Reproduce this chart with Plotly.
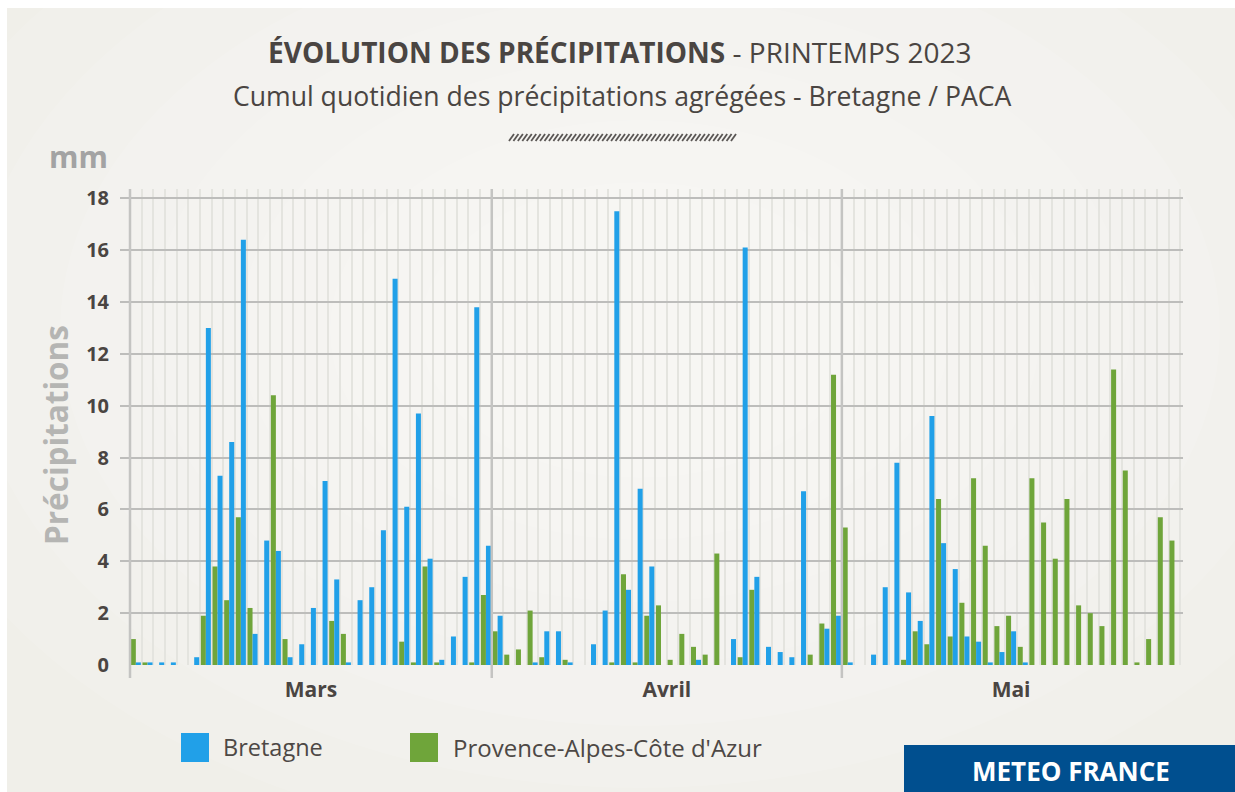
import plotly.graph_objects as go

# ---------------- data ----------------
month_labels = ["Mars", "Avril", "Mai"]
month_days = [31, 30, 29]          # days shown for each month
series_names = ["Bretagne", "Provence-Alpes-Côte d'Azur"]

bretagne = [
    0.1, 0.1, 0.1, 0.1, 0.0, 0.3, 13.0, 7.3, 8.6, 16.4, 1.2, 4.8, 4.4, 0.3, 0.8, 2.2,
    7.1, 3.3, 0.1, 2.5, 3.0, 5.2, 14.9, 6.1, 9.7, 4.1, 0.2, 1.1, 3.4, 13.8, 4.6,
    1.9, 0.0, 0.0, 0.1, 1.3, 1.3, 0.1, 0.0, 0.8, 2.1, 17.5, 2.9, 6.8, 3.8, 0.0,
    0.0, 0.0, 0.2, 0.0, 0.0, 1.0, 16.1, 3.4, 0.7, 0.5, 0.3, 6.7, 0.0, 1.4, 1.9,
    0.1, 0.0, 0.4, 3.0, 7.8, 2.8, 1.7, 9.6, 4.7, 3.7, 1.1, 0.9, 0.1, 0.5, 1.3,
    0.1, 0.0, 0.0, 0.0, 0.0, 0.0, 0.0, 0.0, 0.0, 0.0, 0.0, 0.0, 0.0, 0.0,
]
paca = [
    1.0, 0.1, 0.0, 0.0, 0.0, 0.0, 1.9, 3.8, 2.5, 5.7, 2.2, 0.0, 10.4, 1.0, 0.0, 0.0,
    0.0, 1.7, 1.2, 0.0, 0.0, 0.0, 0.0, 0.9, 0.1, 3.8, 0.1, 0.0, 0.0, 0.1, 2.7,
    1.3, 0.4, 0.6, 2.1, 0.3, 0.0, 0.2, 0.0, 0.0, 0.0, 0.1, 3.5, 0.1, 1.9, 2.3,
    0.2, 1.2, 0.7, 0.4, 4.3, 0.0, 0.3, 2.9, 0.0, 0.0, 0.0, 0.0, 0.4, 1.6, 11.2,
    5.3, 0.0, 0.0, 0.0, 0.0, 0.2, 1.3, 0.8, 6.4, 1.1, 2.4, 7.2, 4.6, 1.5, 1.9,
    0.7, 7.2, 5.5, 4.1, 6.4, 2.3, 2.0, 1.5, 11.4, 7.5, 0.1, 1.0, 5.7, 4.8,
]
y_ticks = [0, 2, 4, 6, 8, 10, 12, 14, 16, 18]

# ---------------- style ----------------
BLUE = "#21a0e8"
GREEN = "#6fa53a"
DARK = "#4a4542"
W, H = 1235, 792
# plot area in page pixels: x 120..1183, y 189..665
PL, PR, PT, PB = 120, 1183, 189, 665
ML, MR, MT, MB = PL, W - PR, PT, H - PB
PW, PH = PR - PL, PB - PT

def px(x):
    return (x - PL) / PW

def py(y):
    return (PB - y) / PH

n_days = sum(month_days)
xs = [i + 0.5 for i in range(n_days)]
bounds = [0]
for d in month_days:
    bounds.append(bounds[-1] + d)
month_centers = [(bounds[i] + bounds[i + 1]) / 2 for i in range(len(month_days))]

day_px = 11.67
x_lo = -10 / day_px
x_hi = x_lo + PW / day_px

fig = go.Figure()
fig.add_trace(go.Bar(x=xs, y=paca, name=series_names[1], marker=dict(color=GREEN, line=dict(width=0)),
                     showlegend=False))
fig.add_trace(go.Bar(x=xs, y=bretagne, name=series_names[0], marker=dict(color=BLUE, line=dict(width=0)),
                     showlegend=False))

shapes = []
# card
shapes.append(dict(type="rect", xref="paper", yref="paper", x0=px(7), x1=px(W + 10), y0=py(H + 10), y1=py(8),
                   fillcolor="#f0efe9", line=dict(width=0), layer="below"))
# soft radial light on the card
for k in range(7):
    rx = 760 - k * 90
    ry = 520 - k * 62
    cx, cy = 640, 330
    shapes.append(dict(type="circle", xref="paper", yref="paper", x0=px(cx - rx), x1=px(cx + rx),
                       y0=py(cy + ry), y1=py(cy - ry), fillcolor="rgba(255,255,255,0.11)",
                       line=dict(width=0), layer="below"))
# METEO FRANCE box
shapes.append(dict(type="rect", xref="paper", yref="paper", x0=px(904), x1=px(W + 10), y0=py(H + 10), y1=py(745),
                   fillcolor="#004f8f", line=dict(width=0), layer="above"))
# hatched ornament
n_hatch = 51
for i in range(n_hatch):
    x0 = 511 + i * (222 / (n_hatch - 1)) - 2
    shapes.append(dict(type="line", xref="paper", yref="paper", x0=px(x0), x1=px(x0 + 5),
                       y0=py(141), y1=py(134), line=dict(color="#5a5654", width=1.8)))
# month separators + left axis
for b in bounds[:-1]:
    shapes.append(dict(type="line", xref="x", yref="paper", x0=b, x1=b, y0=-13 / PH, y1=1,
                       line=dict(color="#c4c4c2", width=2.5), layer="above"))
# legend squares
shapes.append(dict(type="rect", xref="paper", yref="paper", x0=px(181), x1=px(209), y0=py(762), y1=py(733),
                   fillcolor=BLUE, line=dict(width=0)))
shapes.append(dict(type="rect", xref="paper", yref="paper", x0=px(410), x1=px(438), y0=py(762), y1=py(733),
                   fillcolor=GREEN, line=dict(width=0)))

annotations = [
    dict(text="<b>ÉVOLUTION DES PRÉCIPITATIONS</b> - PRINTEMPS 2023", x=px(620), y=py(52),
         xref="paper", yref="paper", showarrow=False, xanchor="center", yanchor="middle",
         font=dict(family="Open Sans", size=28, color=DARK)),
    dict(text="Cumul quotidien des précipitations agrégées - Bretagne / PACA", x=px(622), y=py(96),
         xref="paper", yref="paper", showarrow=False, xanchor="center", yanchor="middle",
         font=dict(family="Open Sans", size=26.6, color=DARK)),
    dict(text="mm", x=px(78), y=py(156), xref="paper", yref="paper", showarrow=False,
         xanchor="center", yanchor="middle", font=dict(family="Open Sans", size=30, color="#a3a3a3", weight="bold")),
    dict(text="Précipitations", x=px(55), y=py(435), xref="paper", yref="paper", showarrow=False,
         textangle=-90, xanchor="center", yanchor="middle",
         font=dict(family="Open Sans", size=31.5, color="#b5b5b3", weight="bold")),
    dict(text=series_names[0], x=px(221), y=py(747), xref="paper", yref="paper", showarrow=False,
         xanchor="left", yanchor="middle", font=dict(family="Open Sans", size=23.5, color="#4d4845")),
    dict(text=series_names[1], x=px(451), y=py(747), xref="paper", yref="paper", showarrow=False,
         xanchor="left", yanchor="middle", font=dict(family="Open Sans", size=24, color="#4d4845")),
    dict(text="METEO FRANCE", x=px(1071), y=py(771), xref="paper", yref="paper", showarrow=False,
         xanchor="center", yanchor="middle", font=dict(family="Open Sans", size=26, color="white", weight="bold")),
]

fig.update_layout(
    width=W, height=H,
    margin=dict(l=ML, r=MR, t=MT, b=MB, pad=0),
    paper_bgcolor="white",
    plot_bgcolor="rgba(0,0,0,0)",
    barmode="group",
    bargap=0.14,
    bargroupgap=0,
    showlegend=False,
    shapes=shapes,
    annotations=annotations,
    xaxis=dict(
        range=[x_lo, x_hi],
        tickmode="array", tickvals=month_centers, ticktext=month_labels,
        tickfont=dict(family="Open Sans", size=21, color=DARK, weight="bold"),
        showgrid=False, zeroline=False, showline=False, ticks="", ticklabelstandoff=10,
        minor=dict(dtick=1, tick0=0, showgrid=True, gridcolor="#e4e4df", gridwidth=1.5, ticks=""),
        fixedrange=True,
    ),
    yaxis=dict(
        range=[0, 18.36],
        tickmode="array", tickvals=y_ticks,
        tickfont=dict(family="Open Sans", size=20, color=DARK, weight="bold"),
        showgrid=True, gridcolor="#bdbdbb", gridwidth=1.5,
        zeroline=False, showline=False, ticks="", ticklabelstandoff=10,
        fixedrange=True,
    ),
)

fig.write_html(
    "out.html",
    config={"displayModeBar": False},
    post_script="document.body.style.margin='0';document.body.style.overflow='hidden';",
)
